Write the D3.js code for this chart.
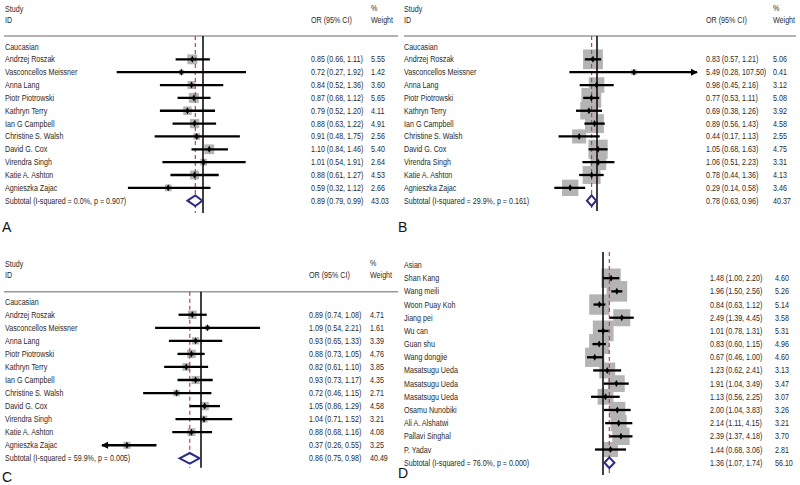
<!DOCTYPE html>
<html><head><meta charset="utf-8">
<script src="https://cdn.jsdelivr.net/npm/d3@7"></script>
<style>
body{margin:0;background:#fff}
text{font-family:'Liberation Sans',Arial,sans-serif;}
</style>
</head><body>
<svg id="c" width="800" height="485"></svg>
<script>
// ---------------- DATA ----------------
const caucStudies = ["Andrzej Roszak","Vasconcellos Meissner","Anna Lang","Piotr Piotrowski","Kathryn Terry","Ian G Campbell","Christine S. Walsh","David G. Cox","Virendra Singh","Katie A. Ashton","Agnieszka Zajac"];
const asianStudies = ["Shan Kang","Wang meili","Woon Puay Koh","Jiang pei","Wu can","Guan shu","Wang dongjie","Masatsugu Ueda","Masatsugu Ueda","Masatsugu Ueda","Osamu Nunobiki","Ali A. Alshatwi","Pallavi Singhal","P. Yadav"];

const aOR = [0.85,0.72,0.84,0.87,0.79,0.88,0.91,1.10,1.01,0.88,0.59];
const aLo = [0.66,0.27,0.52,0.68,0.52,0.63,0.48,0.84,0.54,0.61,0.32];
const aHi = [1.11,1.92,1.36,1.12,1.20,1.22,1.75,1.46,1.91,1.27,1.12];
const aW  = [5.55,1.42,3.60,5.65,4.11,4.91,2.56,5.40,2.64,4.53,2.66];
const aSub = [0.89,0.79,0.99,43.03];
const aSubLabel = "Subtotal  (I-squared = 0.0%, p = 0.907)";

const bOR = [0.83,5.49,0.98,0.77,0.69,0.89,0.44,1.05,1.06,0.78,0.29];
const bLo = [0.57,0.28,0.45,0.53,0.38,0.56,0.17,0.68,0.51,0.44,0.14];
const bHi = [1.21,107.50,2.16,1.11,1.26,1.43,1.13,1.63,2.23,1.36,0.58];
const bW  = [5.06,0.41,3.12,5.08,3.92,4.58,2.55,4.75,3.31,4.13,3.46];
const bSub = [0.78,0.63,0.96,40.37];
const bSubLabel = "Subtotal  (I-squared = 29.9%, p = 0.161)";

const cOR = [0.89,1.09,0.93,0.88,0.82,0.93,0.72,1.05,1.04,0.88,0.37];
const cLo = [0.74,0.54,0.65,0.73,0.61,0.73,0.46,0.86,0.71,0.68,0.26];
const cHi = [1.08,2.21,1.33,1.05,1.10,1.17,1.15,1.29,1.52,1.16,0.55];
const cW  = [4.71,1.61,3.39,4.76,3.85,4.35,2.71,4.58,3.21,4.08,3.25];
const cSub = [0.86,0.75,0.98,40.49];
const cSubLabel = "Subtotal  (I-squared = 59.9%, p = 0.005)";

const dOR = [1.48,1.96,0.84,2.49,1.01,0.83,0.67,1.23,1.91,1.13,2.00,2.14,2.39,1.44];
const dLo = [1.00,1.50,0.63,1.39,0.78,0.60,0.46,0.62,1.04,0.56,1.04,1.11,1.37,0.68];
const dHi = [2.20,2.56,1.12,4.45,1.31,1.15,1.00,2.41,3.49,2.25,3.83,4.15,4.18,3.06];
const dW  = [4.60,5.26,5.14,3.58,5.31,4.96,4.60,3.13,3.47,3.07,3.26,3.21,3.70,2.81];
const dSub = [1.36,1.07,1.74,56.10];
const dSubLabel = "Subtotal  (I-squared = 76.0%, p = 0.000)";

// ---------------- DRAW ----------------
const svg = d3.select("#c");
const fmt = d3.format(".2f");
const TXT = "#2a2a2a";
const FS = 9.4;
const SX = 0.76; // horizontal condensing of the narrow Stata font

function txt(g, x, y, s) {
  return g.append("text")
    .attr("transform", `translate(${x},${y}) scale(${SX},1)`)
    .attr("font-size", FS).attr("fill", TXT).text(s);
}

function panel(cfg, group, studies, or, lo, hi, w, sub, subLabel) {
  const g = svg.append("g");
  const x = d3.scaleLog().domain(cfg.dom).range(cfg.dom.map(v => cfg.x1 + Math.log(v) * cfg.ppl));
  const y = i => cfg.y0 + cfg.step * i;
  const n = studies.length;

  if (cfg.header) {
    txt(g, cfg.tx, cfg.h1, "Study");
    txt(g, cfg.tx, cfg.h2, "ID");
    txt(g, cfg.orX, cfg.h2, "OR (95% CI)");
    txt(g, cfg.wX, cfg.h1 - 1, "%");
    txt(g, cfg.wX, cfg.h2, "Weight");
    g.append("line").attr("x1", cfg.lx1).attr("x2", cfg.lx2).attr("y1", cfg.hl).attr("y2", cfg.hl)
      .attr("stroke", "#9a9a9a").attr("stroke-width", 1.5);
  }

  // boxes (weight)
  g.selectAll("rect.box").data(or).join("rect").attr("class", "box")
    .attr("x", (d, i) => x(d) - cfg.k * Math.sqrt(w[i]) / 2)
    .attr("y", (d, i) => y(i + 1) - cfg.k * Math.sqrt(w[i]) / 2)
    .attr("width", (d, i) => cfg.k * Math.sqrt(w[i]))
    .attr("height", (d, i) => cfg.k * Math.sqrt(w[i]))
    .attr("fill", "#b4b4b4");

  // null line
  g.append("line").attr("x1", x(1)).attr("x2", x(1)).attr("y1", cfg.ly1).attr("y2", cfg.ly2)
    .attr("stroke", "#111").attr("stroke-width", 1.6);
  // overall dashed line
  g.append("line").attr("x1", x(sub[0])).attr("x2", x(sub[0])).attr("y1", cfg.ly1).attr("y2", cfg.ly2)
    .attr("stroke", "#b5484a").attr("stroke-width", 1.2).attr("stroke-dasharray", "4,3");

  // CI lines
  const [dmin, dmax] = cfg.dom;
  or.forEach((d, i) => {
    const l = Math.max(lo[i], dmin), h = Math.min(hi[i], dmax);
    const yy = y(i + 1);
    g.append("line").attr("x1", x(l)).attr("x2", x(h)).attr("y1", yy).attr("y2", yy)
      .attr("stroke", "#000").attr("stroke-width", 2.3);
    if (hi[i] > dmax) {
      const e = x(dmax);
      g.append("path").attr("d", `M${e + 1},${yy} L${e - 6},${yy - 3.5} L${e - 6},${yy + 3.5} Z`).attr("fill", "#000");
    }
    if (lo[i] < dmin) {
      const e = x(dmin);
      g.append("path").attr("d", `M${e - 1},${yy} L${e + 6},${yy - 3.5} L${e + 6},${yy + 3.5} Z`).attr("fill", "#000");
    }
    const px = x(d);
    g.append("path").attr("d", `M${px},${yy - 3.5} L${px + 2},${yy} L${px},${yy + 3.5} L${px - 2},${yy} Z`).attr("fill", "#000");
  });

  // subtotal diamond
  const ys = y(n + 1);
  g.append("path")
    .attr("d", `M${x(sub[1])},${ys} L${x(sub[0])},${ys - 5.3} L${x(sub[2])},${ys} L${x(sub[0])},${ys + 5.3} Z`)
    .attr("fill", "#fff").attr("stroke", "#2b2b86").attr("stroke-width", 2);

  // labels
  txt(g, cfg.tx, y(0) + 3, group);
  studies.forEach((s, i) => {
    txt(g, cfg.tx, y(i + 1) + 3, s);
    txt(g, cfg.orX, y(i + 1) + 3, `${fmt(or[i])} (${fmt(lo[i])}, ${fmt(hi[i])})`);
    txt(g, cfg.wX, y(i + 1) + 3, fmt(w[i]));
  });
  txt(g, cfg.tx, ys + 3, subLabel);
  txt(g, cfg.orX, ys + 3, `${fmt(sub[0])} (${fmt(sub[1])}, ${fmt(sub[2])})`);
  txt(g, cfg.wX, ys + 3, fmt(sub[3]));

  // panel letter
  svg.append("text").attr("x", cfg.lx).attr("y", cfg.ly).text(cfg.letter)
    .attr("font-size", 14).attr("fill", "#111");
}

panel({header: true, tx: 5, h1: 11.5, h2: 23, hl: 36, lx1: 4, lx2: 398, orX: 311, wX: 371,
       y0: 46.5, step: 12.85, x1: 203, ppl: 65.9, dom: [0.2, 5], ly1: 36, ly2: 213, k: 4.2,
       letter: "A", lx: 2, ly: 232},
      "Caucasian", caucStudies, aOR, aLo, aHi, aW, aSub, aSubLabel);

panel({header: true, tx: 404, h1: 11.5, h2: 23, hl: 36, lx1: 404, lx2: 796, orX: 706, wX: 773,
       y0: 46.5, step: 12.85, x1: 597, ppl: 21.7, dom: [0.01, 100], ly1: 36, ly2: 211, k: 8.8,
       letter: "B", lx: 398, ly: 232},
      "Caucasian", caucStudies, bOR, bLo, bHi, bW, bSub, bSubLabel);

panel({header: true, tx: 5, h1: 266.5, h2: 277.5, hl: 291.7, lx1: 4, lx2: 398, orX: 309, wX: 370,
       y0: 301.7, step: 13.05, x1: 201, ppl: 74.5, dom: [0.265, 3.77], ly1: 291.7, ly2: 467.7, k: 3.9,
       letter: "C", lx: 2, ly: 482},
      "Caucasian", caucStudies, cOR, cLo, cHi, cW, cSub, cSubLabel);

panel({header: false, tx: 404, orX: 710, wX: 775,
       y0: 265, step: 13.18, x1: 603, ppl: 20.6, dom: [0.01, 100], ly1: 252, ly2: 475, k: 9.0,
       letter: "D", lx: 398, ly: 478},
      "Asian", asianStudies, dOR, dLo, dHi, dW, dSub, dSubLabel);
</script>
</body></html>
